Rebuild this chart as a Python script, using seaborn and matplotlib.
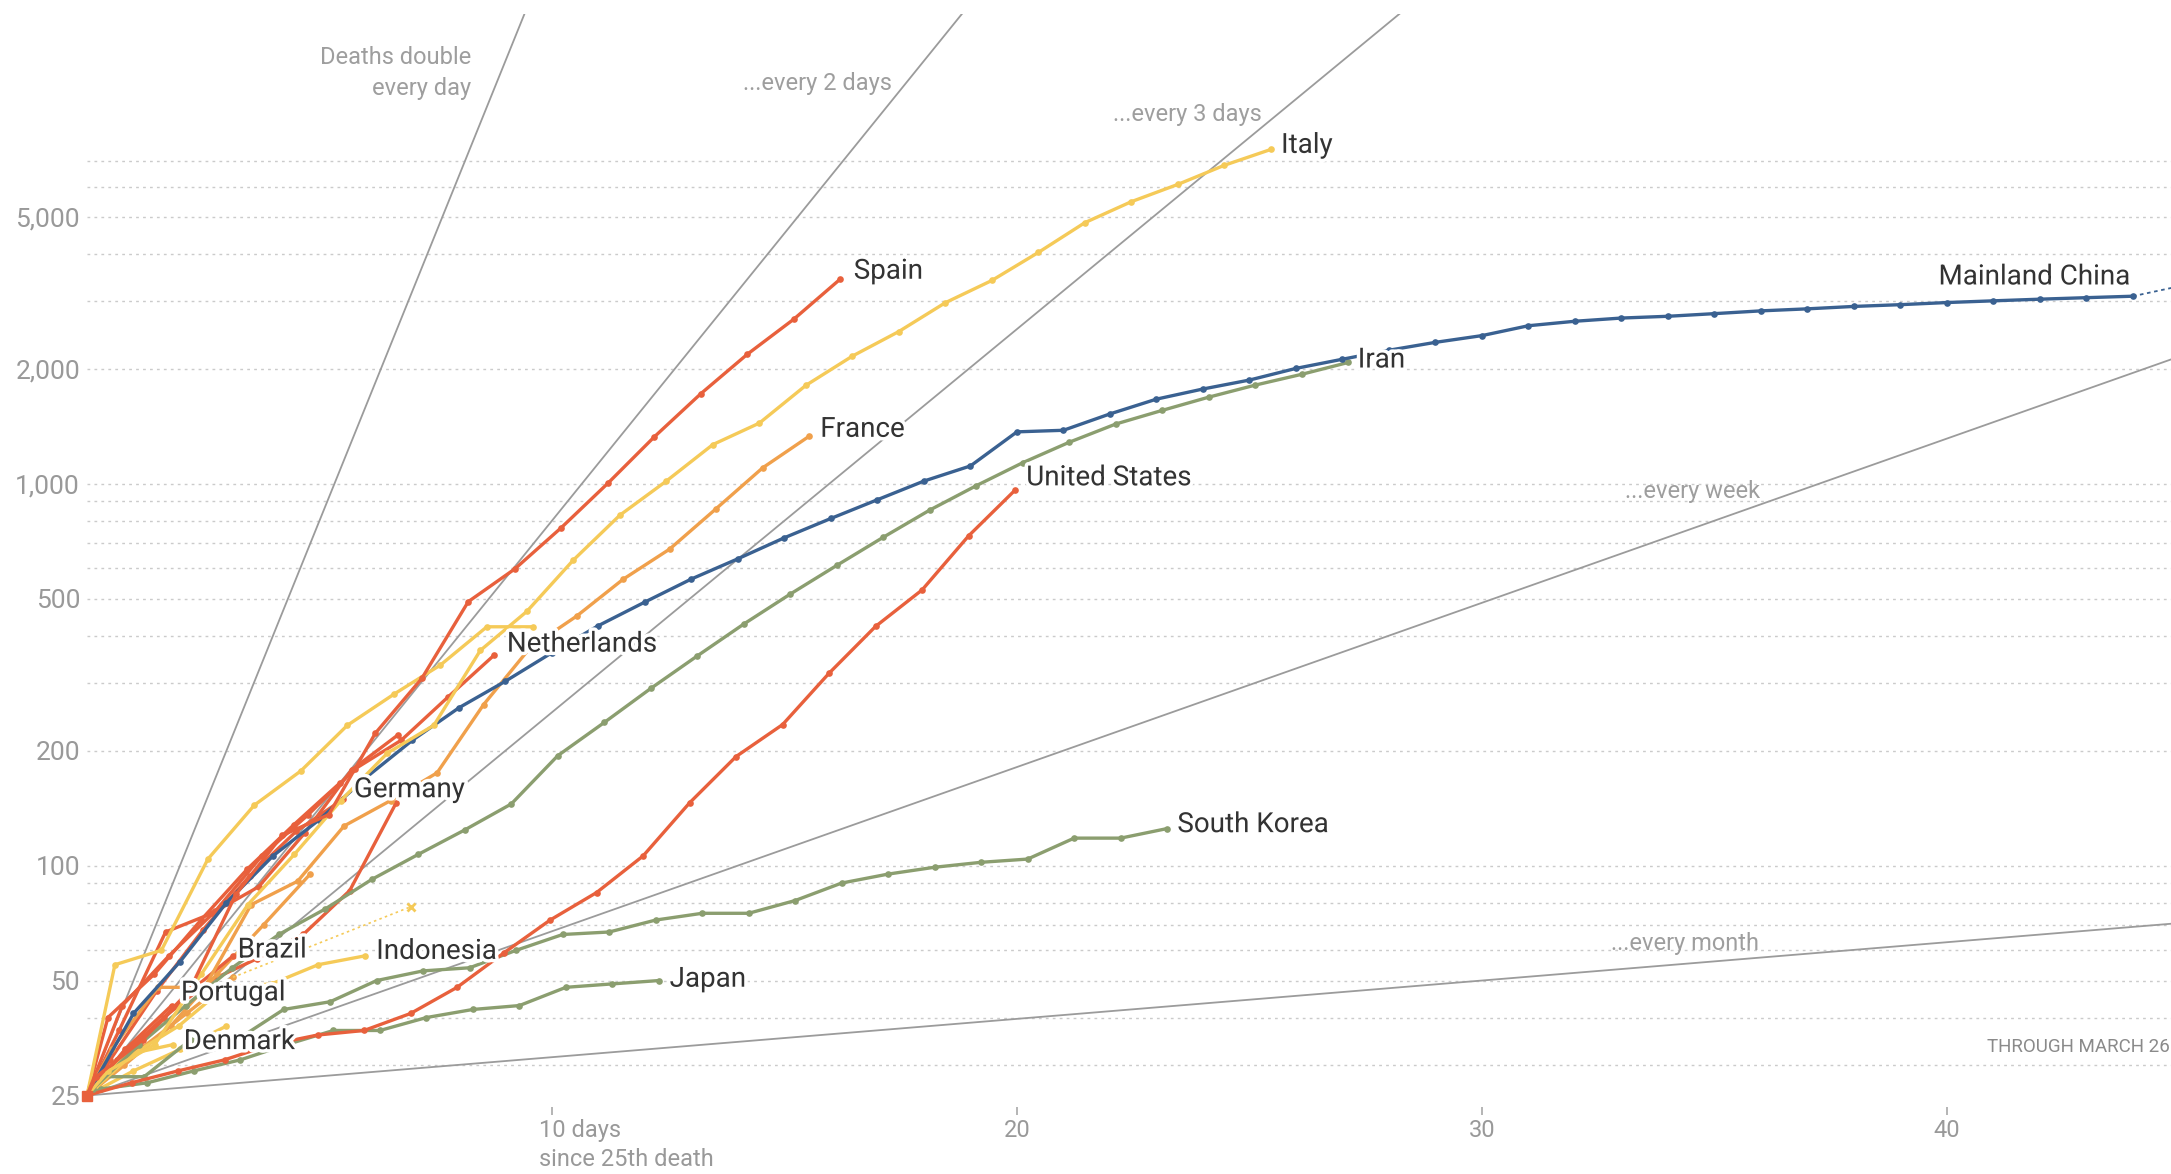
import numpy as np
import pandas as pd
import seaborn as sns
import matplotlib.pyplot as plt
import matplotlib.patheffects as pe
from matplotlib.ticker import NullLocator

sns.set_style('white')
plt.rcParams['font.family'] = ['Roboto', 'DejaVu Sans']

# --- data: cumulative deaths, one point per day after the 25th death ---
# every line starts at 25 deaths on day 0; "start" = day of the first daily point
origin_deaths = 25

china_start = 0
china_deaths = [25, 41, 56, 80, 106, 132, 170, 213, 259, 304, 361, 425, 490, 563, 636,
                722, 811, 908, 1016, 1113, 1367, 1380, 1523, 1665, 1770, 1868, 2004,
                2118, 2236, 2345, 2442, 2592, 2663, 2715, 2744, 2788, 2835, 2870, 2912,
                2943, 2981, 3012, 3042, 3070, 3097]
china_next = (45.5, 3390)  # dashed, preliminary

italy_start = 0.46
italy_deaths = [29, 34, 52, 79, 107, 148, 197, 233, 366, 463, 631, 827, 1016, 1266,
                1441, 1809, 2158, 2503, 2978, 3405, 4032, 4825, 5476, 6077, 6820, 7503]

spain_start = 0.2
spain_deaths = [28, 35, 47, 84, 120, 136, 222, 309, 491, 598, 767, 1002, 1326, 1720,
                2182, 2696, 3434]

france_start = 0.53
france_deaths = [33, 48, 48, 79, 91, 127, 148, 175, 264, 372, 450, 562, 674, 860, 1100, 1331]

iran_start = 0.125
iran_deaths = [26, 34, 43, 54, 66, 77, 92, 107, 124, 145, 194, 237, 291, 354, 429, 514,
               611, 724, 853, 988, 1135, 1284, 1433, 1556, 1685, 1812, 1934, 2077]

us_start = 0.96
us_deaths = [27, 29, 31, 34, 36, 37, 41, 48, 59, 72, 85, 106, 146, 193, 234, 319, 423,
             527, 730, 962]

korea_start = 0.23
korea_deaths = [28, 28, 35, 35, 42, 44, 50, 53, 54, 60, 66, 67, 72, 75, 75, 81, 90, 95,
                99, 102, 104, 118, 118, 125]

japan_start = 0.3
japan_deaths = [26, 27, 29, 31, 34, 37, 37, 40, 42, 43, 48, 49, 50]

netherlands_start = 0.76
netherlands_deaths = [43, 58, 76, 106, 136, 179, 213, 276, 356]

uk_start = 0.6
uk_deaths = [55, 60, 104, 144, 177, 233, 281, 335, 422, 422]

belgium_start = 0.69
belgium_deaths = [37, 67, 75, 88, 122, 178, 220]

germany_start = 0.5
germany_deaths = [31, 47, 68, 94, 123, 149]

brazil_start = 1.14
brazil_deaths = [34, 46, 58]

portugal_start = 0.82
portugal_deaths = [33, 43]

denmark_start = 0.86
denmark_deaths = [32, 34]

indonesia_start = 0.97
indonesia_deaths = [32, 38, 48, 49, 55, 58]
indonesia_next = (6.96, 78)

# unlabeled lines in the crowded bundle
other_red1_start = 0.65
other_red1_deaths = [31, 40, 50, 57, 66, 86, 146]
other_red2_start = 0.45
other_red2_deaths = [40, 52, 72, 98, 128, 165]
other_orange1_start = 1.14
other_orange1_deaths = [33, 41, 51]
other_orange2_start = 0.8
other_orange2_deaths = [30, 38, 52, 70, 95]
other_yellow_start = 1.0
other_yellow_deaths = [29, 33, 38]

# y gridlines and tick labels
grid_values = [30, 40, 50, 60, 70, 80, 90, 100, 200, 300, 400, 500, 600, 700, 800, 900,
               1000, 2000, 3000, 4000, 5000, 6000, 7000]
y_ticks = [25, 50, 100, 200, 500, 1000, 2000, 5000]
x_ticks = [10, 20, 30, 40]
x_tick_labels = ['', '20', '30', '40']

# doubling-time guides (days per doubling)
guide_days = [1, 2, 3, 7, 30]

# --- colours ---
red = '#e8603c'
orange = '#f0a04b'
yellow = '#f5ca58'
blue = '#3a6191'
green = '#8b9e6f'

series = {
    'Other red 1': (other_red1_start, other_red1_deaths, red),
    'Other red 2': (other_red2_start, other_red2_deaths, red),
    'Other orange 1': (other_orange1_start, other_orange1_deaths, orange),
    'Other orange 2': (other_orange2_start, other_orange2_deaths, orange),
    'Other yellow': (other_yellow_start, other_yellow_deaths, yellow),
    'Japan': (japan_start, japan_deaths, green),
    'South Korea': (korea_start, korea_deaths, green),
    'Denmark': (denmark_start, denmark_deaths, yellow),
    'Portugal': (portugal_start, portugal_deaths, red),
    'Brazil': (brazil_start, brazil_deaths, red),
    'Indonesia': (indonesia_start, indonesia_deaths, yellow),
    'Germany': (germany_start, germany_deaths, red),
    'Belgium': (belgium_start, belgium_deaths, red),
    'United Kingdom': (uk_start, uk_deaths, yellow),
    'Netherlands': (netherlands_start, netherlands_deaths, red),
    'United States': (us_start, us_deaths, red),
    'France': (france_start, france_deaths, orange),
    'Iran': (iran_start, iran_deaths, green),
    'Mainland China': (china_start, china_deaths, blue),
    'Italy': (italy_start, italy_deaths, yellow),
    'Spain': (spain_start, spain_deaths, red),
}

rows = []
for name, (start, vals, _) in series.items():
    if start > 0:
        rows.append((name, 0.0, origin_deaths))
    for i, v in enumerate(vals):
        rows.append((name, start + i, v))
df = pd.DataFrame(rows, columns=['country', 'day', 'deaths'])
palette = {name: c for name, (_, _, c) in series.items()}

# label placement (left edge, vertical centre) in data units
label_pos = {
    'Italy': (25.68, 7690),
    'Spain': (16.49, 3600),
    'France': (15.77, 1388),
    'United States': (20.2, 1036),
    'Iran': (27.33, 2108),
    'Mainland China': (39.82, 3478),
    'South Korea': (23.45, 128),
    'Japan': (12.53, 50.4),
    'Netherlands': (9.03, 380),
    'Germany': (5.74, 158),
    'Brazil': (3.24, 60.1),
    'Indonesia': (6.22, 59.6),
    'Portugal': (2.02, 46.4),
    'Denmark': (2.08, 34.6),
}

fig = plt.figure(figsize=(21.71, 11.74), dpi=100)
ax = fig.add_axes([87 / 2171, 1 - 1095.5 / 1174, 1 - 87 / 2171, (1095.5 - 14) / 1174])
ax.set_yscale('log')
ax.set_xlim(0, 44.82)
ax.set_ylim(25, 16980)

for g in grid_values:
    ax.axhline(g, color='#cbcbcb', lw=1, ls=(0, (2, 3)), zorder=0)

for d in guide_days:
    x_end = min(50, d * 10)
    ax.plot([0, x_end], [origin_deaths, origin_deaths * 2 ** (x_end / d)],
            color='#9b9b9b', lw=1.3, zorder=1)

sns.lineplot(data=df, x='day', y='deaths', hue='country', hue_order=list(series),
             palette=palette, marker='o', markersize=4.8, markeredgewidth=0,
             linewidth=2.4, sort=False, estimator=None, legend=False, ax=ax,
             clip_on=False, zorder=3)

ax.plot([0], [origin_deaths], marker='s', color=red, markersize=6.5, clip_on=False, zorder=6)

# preliminary extensions
ax.plot([44, china_next[0]], [china_deaths[-1], china_next[1]], color=blue, lw=1.3,
        ls=(0, (2, 2)), zorder=3)
ax.plot([other_orange1_start + 2, indonesia_next[0]], [other_orange1_deaths[-1], indonesia_next[1]],
        color=yellow, lw=1.2, ls=(0, (1.5, 2)), zorder=3)
ax.plot([indonesia_next[0]], [indonesia_next[1]], marker='x', color=yellow, markersize=6,
        markeredgewidth=2, zorder=3)

halo = [pe.withStroke(linewidth=5, foreground='white')]
for name, (x, y) in label_pos.items():
    ax.text(x, y, name, ha='left', va='center', fontsize=20, color='#333333',
            path_effects=halo, zorder=10)

guide_color = '#9e9e9e'
ax.text(8.27, 11900, 'Deaths double\nevery day', ha='right', va='center', fontsize=17,
        color=guide_color, linespacing=1.4, multialignment='right')
ax.text(17.32, 11195, '...every 2 days', ha='right', va='center', fontsize=17,
        color=guide_color)
ax.text(25.27, 9240, '...every 3 days', ha='right', va='center', fontsize=17,
        color=guide_color)
ax.text(35.98, 953, '...every week', ha='right', va='center', fontsize=17,
        color=guide_color)
ax.text(35.95, 62.6, '...every month', ha='right', va='center', fontsize=17,
        color=guide_color)
ax.text(0.9995, 33.5, 'THROUGH MARCH 26', transform=ax.get_yaxis_transform(),
        ha='right', va='center', fontsize=13.5, color='#8a8a8a')

# axes
for s in ax.spines.values():
    s.set_visible(False)
ax.spines['bottom'].set_position(('outward', 8))
ax.set_xticks(x_ticks)
ax.set_xticklabels(x_tick_labels)
ax.set_yticks(y_ticks)
ax.set_yticklabels([f'{v:,}' for v in y_ticks])
ax.yaxis.set_minor_locator(NullLocator())
ax.xaxis.set_minor_locator(NullLocator())
ax.tick_params(axis='x', bottom=True, length=6, width=1.2, color='#a8a8a8', labelsize=17,
               labelcolor='#999999', pad=3)
ax.tick_params(axis='y', left=False, length=0, pad=5, labelsize=19, labelcolor='#999999')
ax.set_xlabel('')
ax.set_ylabel('')
ax.annotate('10 days\nsince 25th death', xy=(10, 0), xycoords=('data', 'axes fraction'),
            xytext=(-9, -17), textcoords='offset points', ha='left', va='top',
            fontsize=17, color='#999999', linespacing=1.3)

fig.savefig('out.png', dpi=100)
